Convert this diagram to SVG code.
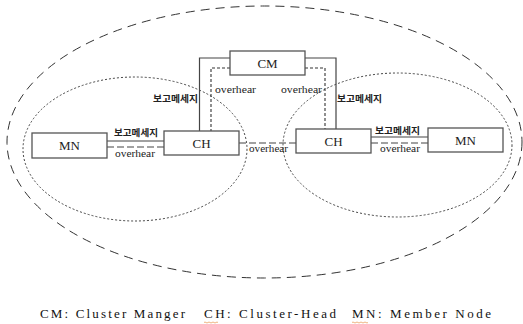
<svg xmlns="http://www.w3.org/2000/svg" width="523" height="324" viewBox="0 0 523 324">
<style>
.box{fill:#fff;stroke:#555;stroke-width:1.3}
.lbl{font-family:"Liberation Serif",serif;font-size:13px;fill:#222;text-anchor:middle}
.kr{font-family:"Noto Sans CJK KR","Noto Sans",sans-serif;font-size:9px;fill:#222;font-weight:bold}
.ov{font-family:"Liberation Serif",serif;font-size:10.5px;fill:#222}
.solid{fill:none;stroke:#444;stroke-width:1.2}
.dot{fill:none;stroke:#333;stroke-width:1.1;stroke-dasharray:3 2}
.dash{fill:none;stroke:#444;stroke-width:1.2;stroke-dasharray:7 3}
.leg{font-family:"Liberation Serif",serif;font-size:13px;fill:#111}
</style>
<rect width="523" height="324" fill="#fff"/>
<g id="regions">
<ellipse cx="264.5" cy="142" rx="257.5" ry="136" fill="none" stroke="#333" stroke-width="1" stroke-dasharray="9 6"/>
<ellipse cx="135" cy="149" rx="112" ry="72" fill="none" stroke="#444" stroke-width="1" stroke-dasharray="2 2"/>
<ellipse cx="397.5" cy="145" rx="114.5" ry="72" fill="none" stroke="#444" stroke-width="1" stroke-dasharray="2 2"/>
</g>
<g id="connectors">
<path class="solid" d="M230,58 H199.5 V131"/>
<path class="dot" d="M230,68 H211 V131"/>
<path class="solid" d="M305,58 H336 V129"/>
<path class="dot" d="M305,68 H325 V129"/>
<path class="solid" d="M107,141 H164"/>
<path class="dash" d="M107,147 H164"/>
<path class="solid" d="M371,137 H428"/>
<path class="dash" d="M371,143 H428"/>
<path class="dash" d="M239,143 H296"/>
<text class="kr" x="153" y="102" textLength="45" lengthAdjust="spacingAndGlyphs">보고메세지</text>
<text class="ov" x="215" y="93" textLength="41" lengthAdjust="spacingAndGlyphs">overhear</text>
<text class="ov" x="281" y="93" textLength="41" lengthAdjust="spacingAndGlyphs">overhear</text>
<text class="kr" x="337" y="102" textLength="45" lengthAdjust="spacingAndGlyphs">보고메세지</text>
<text class="kr" x="114" y="136" textLength="44" lengthAdjust="spacingAndGlyphs">보고메세지</text>
<text class="ov" x="115" y="157" textLength="40" lengthAdjust="spacingAndGlyphs">overhear</text>
<text class="kr" x="375" y="134" textLength="45" lengthAdjust="spacingAndGlyphs">보고메세지</text>
<text class="ov" x="380" y="152" textLength="40" lengthAdjust="spacingAndGlyphs">overhear</text>
<text class="ov" x="249" y="152" textLength="39" lengthAdjust="spacingAndGlyphs">overhear</text>
</g>
<g id="CM"><rect class="box" x="230" y="51" width="75" height="24"/><text class="lbl" x="267.5" y="67.5">CM</text></g>
<g id="CH1"><rect class="box" x="164" y="131" width="75" height="24"/><text class="lbl" x="201.5" y="147.5">CH</text></g>
<g id="MN1"><rect class="box" x="32" y="133" width="75" height="25"/><text class="lbl" x="69.5" y="150">MN</text></g>
<g id="CH2"><rect class="box" x="296" y="129" width="75" height="24"/><text class="lbl" x="333.5" y="145.5">CH</text></g>
<g id="MN2"><rect class="box" x="428" y="128" width="75" height="24"/><text class="lbl" x="465.5" y="144.5">MN</text></g>
<g id="legend">
<text class="leg" x="40" y="318" textLength="145" lengthAdjust="spacing">CM: Cluster Manger</text>
<text class="leg" x="204" y="318" textLength="132" lengthAdjust="spacing">CH: Cluster-Head</text>
<text class="leg" x="352" y="318" textLength="139" lengthAdjust="spacing">MN: Member Node</text>
<path d="M204,322.5 q1,-1 2,0 t2,0 t2,0 t2,0 t2,0 t2,0 t2,0" fill="none" stroke="#e8a060" stroke-width="0.8"/>
<path d="M352,322.5 q1,-1 2,0 t2,0 t2,0 t2,0 t2,0 t2,0 t2,0 t2,0" fill="none" stroke="#e8a060" stroke-width="0.8"/>
</g>
</svg>
